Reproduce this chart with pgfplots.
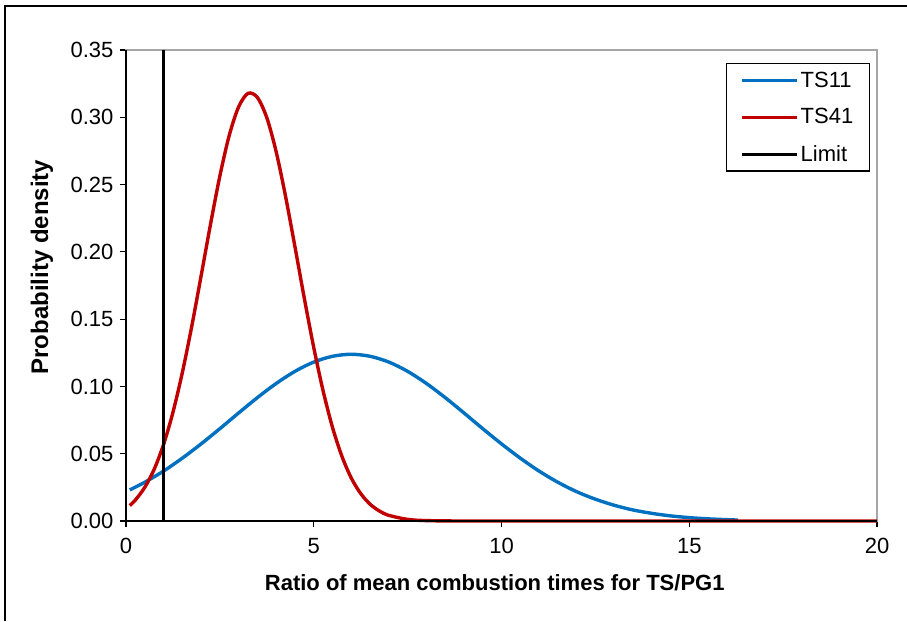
\documentclass[border=0pt]{standalone}
\usepackage{fontspec}
\setmainfont{Liberation Sans}
\usepackage{pgfplots}
\pgfplotsset{compat=1.18}
\definecolor{tsblue}{HTML}{0070C0}
\definecolor{tsred}{HTML}{C00000}
\definecolor{framegray}{HTML}{A6A6A6}
\begin{document}
\begin{tikzpicture}[x=1pt,y=1pt]
\useasboundingbox (0,0) rectangle (907,621);
\draw[line width=2pt] (5,0) -- (5,615) -- (907,615);
\begin{axis}[
  at={(126pt,100pt)}, anchor=south west,
  scale only axis, width=751pt, height=471pt,
  xmin=0, xmax=20, ymin=0, ymax=0.35,
  xtick={0,5,10,15,20},
  ytick={0,0.05,0.10,0.15,0.20,0.25,0.30,0.35},
  yticklabel style={/pgf/number format/fixed,/pgf/number format/fixed zerofill,/pgf/number format/precision=2},
  /pgf/number format/assume math mode=true,
  tick align=outside, major tick length=6pt,
  xtick pos=bottom, ytick pos=left,
  tick style={black, line width=1.2pt},
  axis line style={framegray, line width=1.5pt},
  ticklabel style={font=\fontsize{22}{26}\selectfont, black},
  xticklabel style={yshift=-8pt},
  yticklabel style={xshift=-3pt},
  xlabel={\textbf{Ratio of mean combustion times for TS/PG1}},
  ylabel={\textbf{Probability density}},
  xlabel style={font=\fontsize{22}{26}\selectfont, at={(axis description cs:0.491,-0.132)}, anchor=center},
  ylabel style={font=\fontsize{24}{28}\selectfont, at={(axis description cs:-0.112,0.539)}, anchor=center},
  legend style={at={(axis description cs:0.9907,0.9724)}, anchor=north east,
    draw=black, line width=1.5pt, font=\fontsize{22}{26}\selectfont,
    row sep=16pt, inner xsep=14pt, inner ysep=6pt},
  legend cell align=left,
  legend image code/.code={\draw[#1, line width=3pt] (0pt,0pt) -- (55pt,0pt);},
  clip=false,
]
\addplot[tsblue, line width=3.4pt, smooth] coordinates {
(0.1,0.0231)(0.5,0.0288)(1,0.0371)(1.5,0.0467)(2,0.0573)(2.5,0.0686)(3,0.0803)(3.5,0.0917)
(4,0.1022)(4.5,0.1112)(5,0.1181)(5.5,0.1224)(6,0.1239)(6.5,0.1224)(7,0.1181)(7.5,0.1112)
(8,0.1022)(8.5,0.0917)(9,0.0803)(9.5,0.0686)(10,0.0573)(10.5,0.0467)(11,0.0371)(11.5,0.0288)
(12,0.0218)(12.5,0.0162)(13,0.0117)(13.5,0.0082)(14,0.0057)(14.5,0.0038)(15,0.0025)
(15.5,0.0016)(16,0.0010)(16.3,0.0007)};
\addlegendentry{TS11}
\addplot[tsred, line width=3.4pt, smooth] coordinates {
(0.1,0.0115)(0.25,0.0156)(0.5,0.0250)(0.75,0.0384)(1,0.0568)(1.25,0.0807)(1.5,0.1102)
(1.75,0.1445)(2,0.1821)(2.25,0.2204)(2.5,0.2564)(2.75,0.2866)(3,0.3078)(3.25,0.3178)
(3.5,0.3147)(3.75,0.2997)(4,0.2743)(4.25,0.2411)(4.5,0.2037)(4.75,0.1653)
(5,0.1289)(5.25,0.0966)(5.5,0.0695)(5.75,0.0481)(6,0.0319)(6.25,0.0204)(6.5,0.0125)
(6.75,0.0074)(7,0.0042)(7.5,0.0012)(8,0.0003)(9,0.0000)(12,0)(16,0)(20,0)};
\addlegendentry{TS41}
\addplot[black, line width=3.4pt] coordinates {(1,0)(1,0.35)};
\addlegendentry{Limit}
\draw[black, line width=1.5pt] (rel axis cs:0,1) -- (rel axis cs:0,0) -- (rel axis cs:1,0);
\end{axis}
\end{tikzpicture}
\end{document}
